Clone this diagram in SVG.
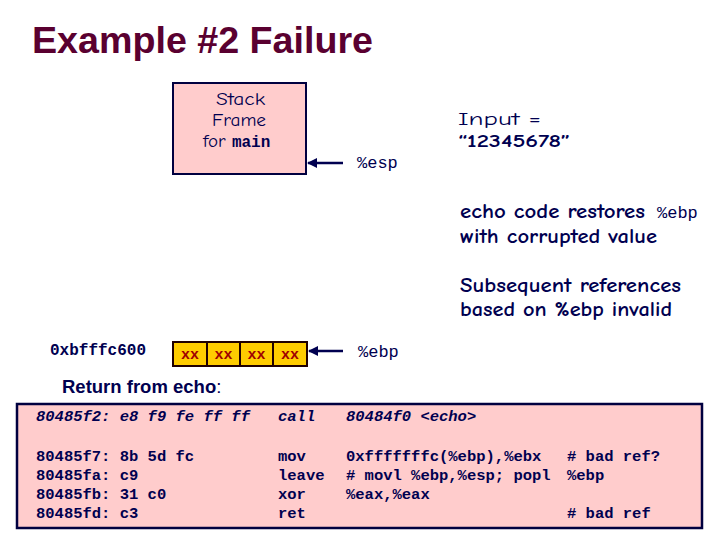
<svg xmlns="http://www.w3.org/2000/svg" width="720" height="540" viewBox="0 0 720 540">
<style>
.hand{font-family:"Comic Neue","DejaVu Sans","Noto Sans",sans-serif;fill:#000050;font-size:19px}
.handb{font-family:"Comic Neue","DejaVu Sans","Noto Sans",sans-serif;fill:#000050;font-size:19.5px;font-weight:bold}
.mono{font-family:"Liberation Mono","Courier New",monospace;font-weight:bold;fill:#000050;font-size:16px}
.monor{font-family:"Liberation Mono","Courier New",monospace;fill:#000050;font-size:17px}
.code{font-family:"Liberation Mono","Courier New",monospace;font-weight:bold;fill:#000050;font-size:15.5px}
.xx{font-family:"Liberation Mono","Courier New",monospace;font-weight:bold;fill:#a00000;font-size:15px;text-anchor:middle}
.arrow{stroke:#000050;stroke-width:2.5;fill:none;marker-end:url(#ah)}
</style>
<defs>
<marker id="ah" viewBox="0 0 10 10" refX="9" refY="5" markerWidth="4" markerHeight="4" orient="auto" markerUnits="strokeWidth">
<path d="M0,0 L10,5 L0,10 z" fill="#000050"/>
</marker>
</defs>
<rect width="720" height="540" fill="#ffffff"/>
<text x="32" y="53" font-family="Liberation Sans,Arial,sans-serif" font-weight="bold" font-size="37.5" fill="#5a0030" textLength="341" lengthAdjust="spacingAndGlyphs">Example #2 Failure</text>

<g id="stackframe">
<rect x="173" y="83" width="133" height="91" fill="#ffcccc" stroke="#000040" stroke-width="2"/>
<text class="hand" x="216" y="105" textLength="49" lengthAdjust="spacingAndGlyphs">Stack</text>
<text class="hand" x="212" y="126" textLength="54" lengthAdjust="spacingAndGlyphs">Frame</text>
<text x="203" y="147"><tspan class="hand">for </tspan><tspan class="mono">main</tspan></text>
</g>

<g id="input">
<text class="hand" x="458" y="125" textLength="83" lengthAdjust="spacingAndGlyphs">Input =</text>
<text class="hand" x="458" y="147" font-weight="bold" textLength="112" lengthAdjust="spacingAndGlyphs">“12345678”</text>
</g>

<g id="esp-label">
<text class="monor" x="357" y="168">%esp</text>
</g>

<g id="notes">
<text class="handb" x="460" y="218" textLength="185" lengthAdjust="spacingAndGlyphs">echo code restores</text>
<text class="monor" x="657" y="218">%ebp</text>
<text class="handb" x="460" y="243" textLength="197" lengthAdjust="spacingAndGlyphs">with corrupted value</text>
<text class="handb" x="460" y="292" textLength="221" lengthAdjust="spacingAndGlyphs">Subsequent references</text>
<text class="handb" x="460" y="316" textLength="212" lengthAdjust="spacingAndGlyphs">based on %ebp invalid</text>
</g>

<g id="memory">
<text class="mono" x="50" y="355" font-size="16.5">0xbfffc600</text>
<rect x="173" y="342" width="134" height="24" fill="#ffcc00" stroke="#200000" stroke-width="2"/>
<line x1="207" y1="342" x2="207" y2="366" stroke="#200000" stroke-width="2"/>
<line x1="240" y1="342" x2="240" y2="366" stroke="#200000" stroke-width="2"/>
<line x1="273" y1="342" x2="273" y2="366" stroke="#200000" stroke-width="2"/>
<text class="xx" x="190" y="359">xx</text>
<text class="xx" x="223.5" y="359">xx</text>
<text class="xx" x="256.5" y="359">xx</text>
<text class="xx" x="290" y="359">xx</text>
</g>

<g id="ebp-label">
<text class="monor" x="358" y="357">%ebp</text>
</g>

<g id="connectors">
<line class="arrow" x1="343" y1="163" x2="308" y2="163"/>
<line class="arrow" x1="343" y1="351" x2="309" y2="351"/>
</g>

<text x="62" y="393" font-family="Liberation Sans,Arial,sans-serif" font-size="18.5" fill="#000050"><tspan font-weight="bold">Return from echo</tspan>:</text>

<g id="code">
<rect x="17" y="404" width="685" height="124" fill="#ffcccc" stroke="#000040" stroke-width="2.5"/>
<g class="code" xml:space="preserve">
<text x="36" y="421" font-style="italic">80485f2: e8 f9 fe ff ff</text>
<text x="278" y="421" font-style="italic">call</text>
<text x="346" y="421" font-style="italic">80484f0 &lt;echo&gt;</text>
<text x="36" y="461">80485f7: 8b 5d fc</text>
<text x="278" y="461">mov</text>
<text x="346" y="461">0xfffffffc(%ebp),%ebx</text>
<text x="567" y="461"># bad ref?</text>
<text x="36" y="480">80485fa: c9</text>
<text x="278" y="480">leave</text>
<text x="346" y="480"># movl %ebp,%esp; popl</text>
<text x="567" y="480">%ebp</text>
<text x="36" y="499">80485fb: 31 c0</text>
<text x="278" y="499">xor</text>
<text x="346" y="499">%eax,%eax</text>
<text x="36" y="518">80485fd: c3</text>
<text x="278" y="518">ret</text>
<text x="567" y="518"># bad ref</text>
</g>
</g>
</svg>
